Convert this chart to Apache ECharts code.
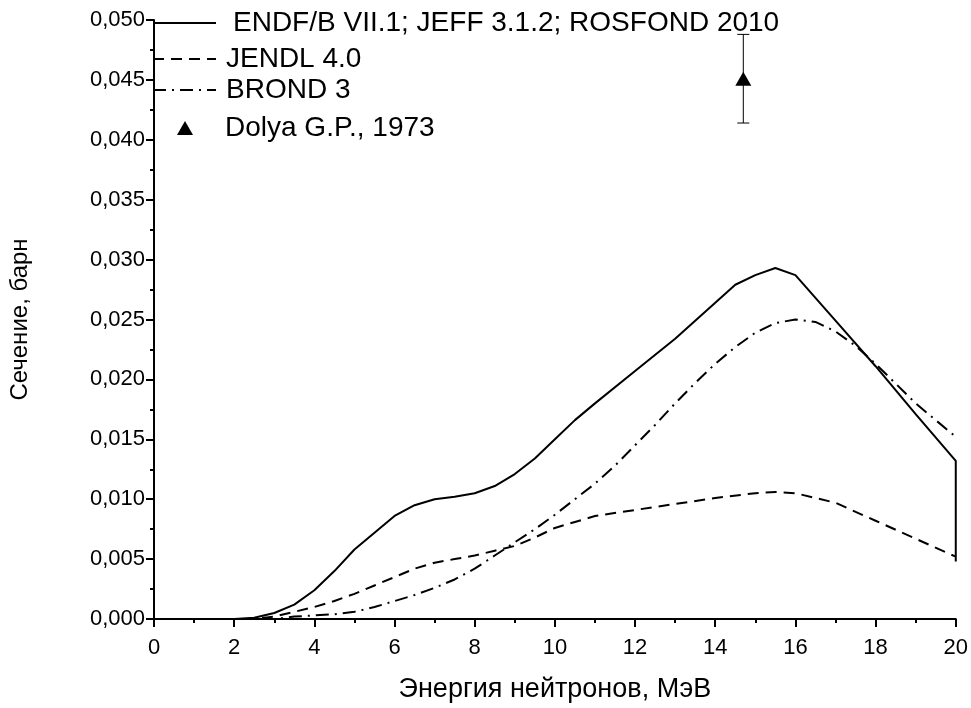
<!DOCTYPE html>
<html>
<head>
<meta charset="utf-8">
<title>Сечение реакции</title>
<script src="https://cdn.jsdelivr.net/npm/echarts@6/dist/echarts.min.js"></script>
<style>
  html, body { margin: 0; padding: 0; background: #fff; }
  #chart { width: 971px; height: 708px; }
</style>
</head>
<body>
<div id="chart"></div>
<script>
// Neutron energy (MeV) and cross sections (barn) for each evaluated library
const endfEnergy = [0, 1, 2, 2.5, 3, 3.5, 4, 4.5, 5, 5.5, 6, 6.5, 7, 7.5, 8, 8.5, 9, 9.5, 10, 10.5, 11, 12, 13, 14, 14.5, 15, 15.5, 16, 17, 18, 19, 20, 20];
const endfXs = [0, 0, 0, 0.0001, 0.0005, 0.0012, 0.0024, 0.0040, 0.0058, 0.0072, 0.0086, 0.0095, 0.0100, 0.0102, 0.0105, 0.0111, 0.0121, 0.0134, 0.0150, 0.0166, 0.0180, 0.0207, 0.0234, 0.0264, 0.0279, 0.0287, 0.0293, 0.0287, 0.0249, 0.0211, 0.0171, 0.0132, 0.0048];

const jendlEnergy = [0, 1, 2, 2.5, 3, 3.5, 4, 4.5, 5, 5.5, 6, 6.5, 7, 7.5, 8, 8.5, 9, 9.5, 10, 10.5, 11, 12, 13, 14, 15, 15.5, 16, 17, 18, 19, 20];
const jendlXs = [0, 0, 0, 0, 0.0002, 0.0006, 0.0010, 0.0015, 0.0021, 0.0028, 0.0035, 0.0042, 0.0047, 0.0050, 0.0053, 0.0057, 0.0061, 0.0068, 0.0076, 0.0081, 0.0086, 0.0091, 0.0096, 0.0101, 0.0105, 0.0106, 0.0105, 0.0097, 0.0082, 0.0067, 0.0052];

const brondEnergy = [0, 1, 2, 3, 3.5, 4, 4.5, 5, 5.5, 6, 6.5, 7, 7.5, 8, 8.5, 9, 9.5, 10, 10.5, 11, 11.5, 12, 12.5, 13, 13.5, 14, 14.5, 15, 15.5, 16, 16.5, 17, 17.5, 18, 19, 20];
const brondXs = [0, 0, 0, 0, 0.0002, 0.0003, 0.0004, 0.0006, 0.0010, 0.0015, 0.0020, 0.0026, 0.0033, 0.0042, 0.0053, 0.0064, 0.0075, 0.0087, 0.0100, 0.0113, 0.0128, 0.0145, 0.0162, 0.0180, 0.0197, 0.0213, 0.0227, 0.0239, 0.0247, 0.0250, 0.0248, 0.0240, 0.0228, 0.0213, 0.0180, 0.0152];

// Experimental point with its uncertainty
const expEnergy = [14.7];
const expXs = [0.0451];
const expErr = [0.0037];

// Axis ticks
const xTicks = { min: 0, max: 20, step: 2 };
const yTicks = { min: 0, max: 0.05, step: 0.005 };

const seriesNames = ['ENDF/B VII.1; JEFF 3.1.2; ROSFOND 2010', 'JENDL 4.0', 'BROND 3', 'Dolya G.P., 1973'];

const zip = (xs, ys) => xs.map((x, i) => [x, ys[i]]);

const FONT = 'Liberation Sans, Arial, sans-serif';

const chart = echarts.init(document.getElementById('chart'), null, { renderer: 'canvas' });

function legendRow(name, left, top, width, height, gap, hideSymbol) {
  const row = {
    data: [name],
    left: left,
    top: top,
    orient: 'horizontal',
    itemWidth: width,
    itemHeight: height,
    padding: 0,
    selectedMode: false,
    textStyle: { fontFamily: FONT, fontSize: 28, color: '#000', lineHeight: 28, padding: [0, 0, 0, gap] }
  };
  row.itemStyle = hideSymbol ? { opacity: 0, borderWidth: 0 } : { color: '#000', opacity: 1 };
  return row;
}

const axisCommon = {
  axisLine: { show: true, lineStyle: { color: '#000', width: 2 } },
  axisTick: { show: true, inside: false, length: 8, lineStyle: { color: '#000', width: 2 } },
  minorTick: { show: true, splitNumber: 2, length: 4, lineStyle: { color: '#000', width: 2 } },
  splitLine: { show: false },
  minorSplitLine: { show: false }
};

chart.setOption({
  backgroundColor: '#fff',
  animation: false,
  grid: { left: 152, right: 15, top: 20, bottom: 88, containLabel: false },
  legend: [
    legendRow(seriesNames[0], 152, 9, 63, 14, 12, true),
    legendRow(seriesNames[1], 152, 45, 63, 14, 5, true),
    legendRow(seriesNames[2], 152, 76, 63, 14, 5, true),
    legendRow(seriesNames[3], 177, 114, 16, 14, 27, false)
  ],
  xAxis: Object.assign({
    type: 'value',
    min: xTicks.min,
    max: xTicks.max,
    interval: xTicks.step,
    name: 'Энергия нейтронов, МэВ',
    nameLocation: 'middle',
    nameGap: 57,
    nameTextStyle: { fontFamily: FONT, fontSize: 27, color: '#000' },
    axisLabel: { fontFamily: FONT, fontSize: 22, color: '#000', margin: 18 }
  }, axisCommon),
  yAxis: Object.assign({
    type: 'value',
    min: yTicks.min,
    max: yTicks.max,
    interval: yTicks.step,
    name: 'Сечение, барн',
    nameLocation: 'middle',
    nameGap: 122,
    nameRotate: 90,
    nameTextStyle: { fontFamily: FONT, fontSize: 24, color: '#000' },
    axisLabel: {
      fontFamily: FONT, fontSize: 22, color: '#000', margin: 9,
      formatter: v => v.toFixed(3).replace('.', ',')
    }
  }, axisCommon),
  series: [
    {
      name: seriesNames[0], type: 'line', data: zip(endfEnergy, endfXs),
      symbol: 'none', smooth: false,
      lineStyle: { color: '#000', width: 2, type: 'solid' }, itemStyle: { color: '#000' }
    },
    {
      name: seriesNames[1], type: 'line', data: zip(jendlEnergy, jendlXs),
      symbol: 'none', smooth: false,
      lineStyle: { color: '#000', width: 2, type: [11, 7] }, itemStyle: { color: '#000' }
    },
    {
      name: seriesNames[2], type: 'line', data: zip(brondEnergy, brondXs),
      symbol: 'none', smooth: false,
      lineStyle: { color: '#000', width: 2, type: [13, 6, 2, 6] }, itemStyle: { color: '#000' }
    },
    {
      name: 'err', type: 'custom',
      data: expEnergy.map((x, i) => [x, expXs[i], expXs[i] - expErr[i], expXs[i] + expErr[i]]),
      encode: { x: 0, y: [2, 3] },
      renderItem: (params, api) => {
        const x = api.value(0);
        const lo = api.coord([x, api.value(2)]);
        const hi = api.coord([x, api.value(3)]);
        const cap = 6;
        const style = { stroke: '#000', lineWidth: 1 };
        return {
          type: 'group',
          children: [
            { type: 'line', shape: { x1: lo[0], y1: lo[1], x2: hi[0], y2: hi[1] }, style },
            { type: 'line', shape: { x1: hi[0] - cap, y1: hi[1], x2: hi[0] + cap, y2: hi[1] }, style },
            { type: 'line', shape: { x1: lo[0] - cap, y1: lo[1], x2: lo[0] + cap, y2: lo[1] }, style }
          ]
        };
      },
      z: 3
    },
    {
      name: seriesNames[3], type: 'scatter', data: zip(expEnergy, expXs),
      symbol: 'triangle', symbolSize: [16, 14],
      itemStyle: { color: '#000', opacity: 1 }, z: 4
    }
  ]
});
</script>
</body>
</html>
